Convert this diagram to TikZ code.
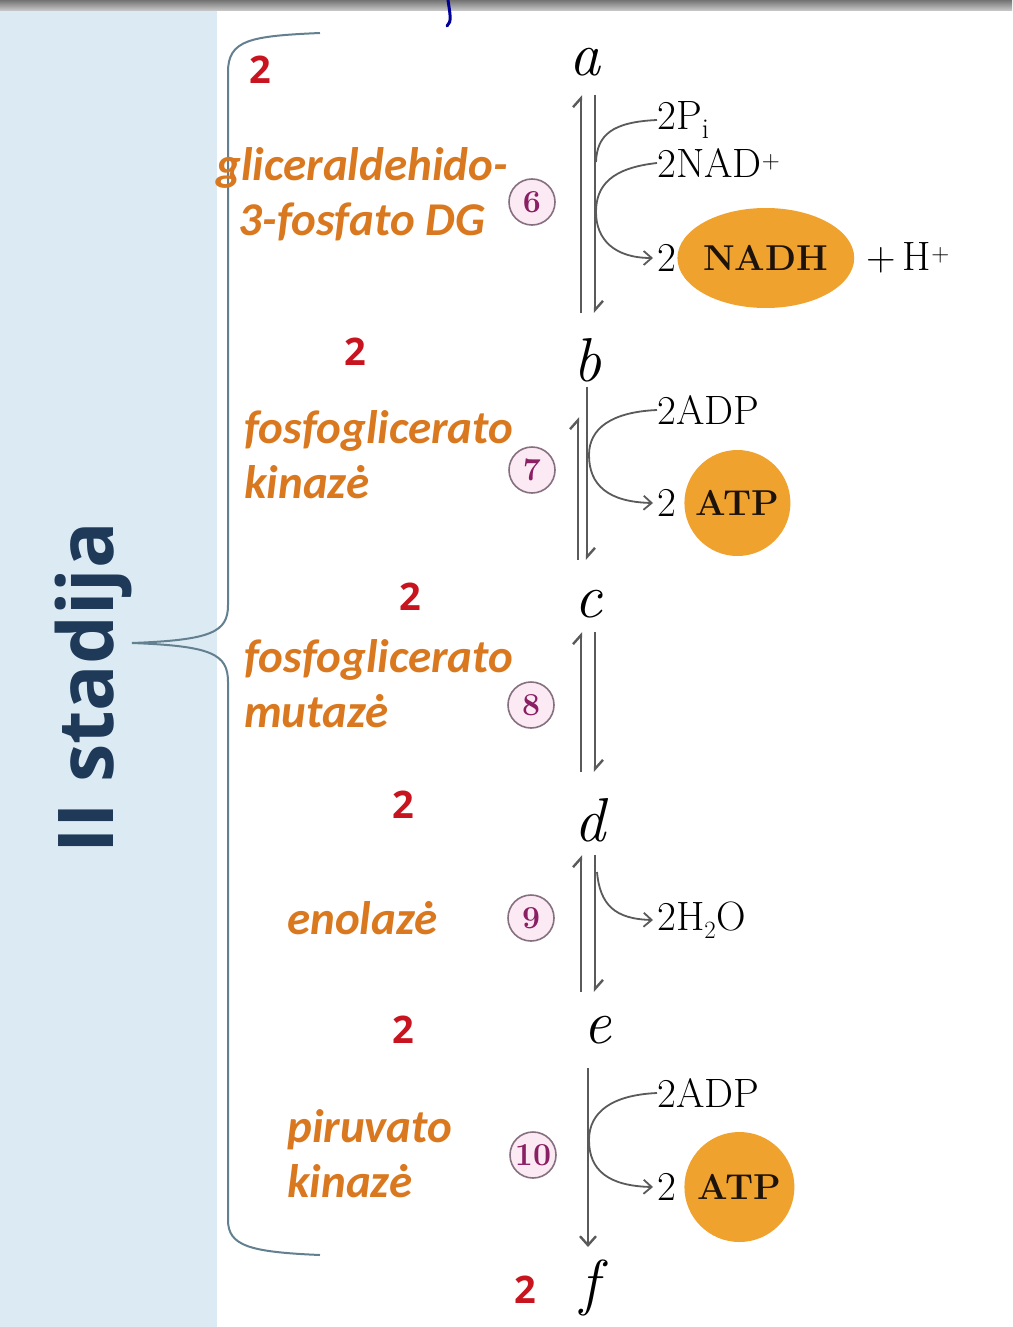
\documentclass[tikz,border=0pt]{standalone}
\usepackage{fontspec}
\usepackage{amsmath}
\usepackage{tikz}
\usetikzlibrary{arrows.meta,positioning,shapes.geometric}

\newfontfamily\enzfont{Carlito}
\newfontfamily\stagefont{Open Sans}

\definecolor{panelblue}{HTML}{DCEBF3}
\definecolor{stageblue}{HTML}{1F3A58}
\definecolor{enzorange}{HTML}{D9781E}
\definecolor{countred}{HTML}{C8141E}
\definecolor{bracegray}{HTML}{62808F}
\definecolor{numpurple}{HTML}{8A1F63}
\definecolor{ringgray}{HTML}{86707F}
\definecolor{ringfill}{HTML}{FBEAF4}
\definecolor{blobor}{HTML}{F0A22E}
\definecolor{linegray}{HTML}{5A5A5A}

\tikzset{
  enzyme/.style={font=\enzfont\bfseries\itshape\fontsize{47}{55}\selectfont,
    text=enzorange, inner sep=0pt, align=left},
  count/.style={font=\stagefont\bfseries\fontsize{38}{38}\selectfont,
    text=countred, inner sep=0pt},
  hand/.style={font=\itshape\fontsize{62}{62}\selectfont, inner sep=0pt},
  stepnum/.style={circle, draw=ringgray, fill=ringfill, line width=1.6pt,
    minimum size=46pt, inner sep=0pt, text=numpurple,
    font=\bfseries\fontsize{32}{32}\selectfont},
  chem/.style={font=\fontsize{41}{41}\selectfont, inner sep=0pt, anchor=west},
  blob/.style={fill=blobor, inner sep=0pt, font=\bfseries\fontsize{36}{36}\selectfont,
    text=black!85!brown},
  rxn/.style={draw=linegray, line width=2.4pt},
  rev/.style={rxn, -{Straight Barb[harpoon,length=9pt,width=16pt]}},
  fwd/.style={rxn, -{Straight Barb[length=9pt,width=16pt]}},
  side/.style={draw=linegray, line width=1.8pt},
  sidearr/.style={side, -{Straight Barb[length=8pt,width=14pt]}}
}

\begin{document}
\begin{tikzpicture}[x=1pt,y=-1pt]
\useasboundingbox (0,0) rectangle (1012,1327);
% panels
\fill[white] (0,0) rectangle (1012,1327);
\fill[panelblue] (0,10) rectangle (217,1327);
\shade[top color=gray!90!black, bottom color=gray!40] (0,0) rectangle (1012,11);
\draw[blue!60!black, line width=3pt, line cap=round] (448,0) .. controls (450,14) and (452,22) .. (447,26);

% stage label and brace
\node[font=\stagefont\bfseries\fontsize{77}{77}\selectfont, text=stageblue, rotate=90]
  (stage) at (93,688) {II stadija};
\coordinate (bracetip) at (132,643);
\draw[bracegray, line width=2pt]
  (320,33) .. controls (250,36) and (228,40) .. (228,72) -- (228,605)
  .. controls (228,632) and (212,640) .. (bracetip)
  .. controls (212,646) and (228,654) .. (228,682) -- (228,1220)
  .. controls (228,1246) and (250,1252) .. (320,1255);

% compounds
\node[count] (n1) at (260,70) {2};
\node[count] (n2) at (355,352) {2};
\node[count] (n3) at (410,597) {2};
\node[count] (n4) at (403,805) {2};
\node[count] (n5) at (403,1030) {2};
\node[count] (n6) at (525,1290) {2};
\node[hand] (a) at (585,62) {a};
\node[hand] (b) at (587,360) {b};
\node[hand] (c) at (588,604) {c};
\node[hand] (d) at (590,820) {d};
\node[hand] (e) at (597,1030) {e};
\node[hand] (f) at (590,1288) {f};

% enzymes
\node[enzyme, align=center] (dg) at (362,194) {gliceraldehido-\\3-fosfato DG};
\node[enzyme, anchor=west] (pgk) at (244,455) {fosfoglicerato\\kinazė};
\node[enzyme, anchor=west] (pgm) at (244,684) {fosfoglicerato\\mutazė};
\node[enzyme, anchor=west] (eno) at (287,918) {enolazė};
\node[enzyme, anchor=west] (pk) at (287,1154) {piruvato\\kinazė};

\node[stepnum] (r6) at (532,202) {6};
\node[stepnum] (r7) at (532,470) {7};
\node[stepnum] (r8) at (531,705) {8};
\node[stepnum] (r9) at (531,918) {9};
\node[stepnum] (r10) at (533,1155) {10};

% main arrows
\foreach \s/\yt/\yb in {6/95/313, 8/632/772, 9/855/992}{
  \coordinate (t\s) at (588,\yt);
  \coordinate (u\s) at (588,\yb);
  \draw[rev] ([xshift=-7pt]u\s) -- ([xshift=-7pt]t\s);
  \draw[rev] ([xshift=7pt]t\s) -- ([xshift=7pt]u\s);
}
\coordinate (t7) at (583,387);
\coordinate (u7) at (583,560);
\draw[rev] ([xshift=-5pt]u7) -- ([xshift=-5pt,yshift=-30pt]t7);
\draw[rev] ([xshift=4pt]t7) -- ([xshift=4pt]u7);
\coordinate (t10) at (588,1068);
\coordinate (u10) at (588,1247);
\draw[fwd] (t10) -- (u10);

% step 6
\node[chem] (pi) at (657,120) {2P$_\mathrm{i}$};
\node[chem] (nad) at (657,163) {2NAD$^+$};
\node[chem] (two6) at (657,258) {2};
\node[blob, ellipse, minimum width=160pt, minimum height=100pt, right=1pt of two6] (nadh) {NADH};
\node[chem, right=12pt of nadh] (hplus) {+\,H$^+$};
\draw[side] (pi.west) .. controls (612,122) and (597,135) .. (596,162);
\draw[sidearr] (nad.west) .. controls (612,168) and (596,185) .. (596,212)
  .. controls (596,240) and (615,258) .. ([xshift=-4pt]two6.west);

% step 7
\node[chem] (adp7) at (657,410) {2ADP};
\node[chem] (two7) at (657,503) {2};
\node[blob, circle, minimum size=106pt, right=8pt of two7] (atp7) {ATP};
\draw[sidearr] (adp7.west) .. controls (612,412) and (589,428) .. (589,455)
  .. controls (589,485) and (608,502) .. ([xshift=-4pt]two7.west);

% step 9
\node[chem] (water) at (657,920) {2H$_2$O};
\draw[sidearr] (597,872) .. controls (600,905) and (615,919) .. ([xshift=-4pt]water.west);

% step 10
\node[chem] (adp10) at (657,1093) {2ADP};
\node[chem] (two10) at (657,1187) {2};
\node[blob, circle, minimum size=110pt, right=8pt of two10] (atp10) {ATP};
\draw[sidearr] (adp10.west) .. controls (612,1095) and (589,1112) .. (589,1140)
  .. controls (589,1170) and (608,1186) .. ([xshift=-4pt]two10.west);
\end{tikzpicture}
\end{document}
